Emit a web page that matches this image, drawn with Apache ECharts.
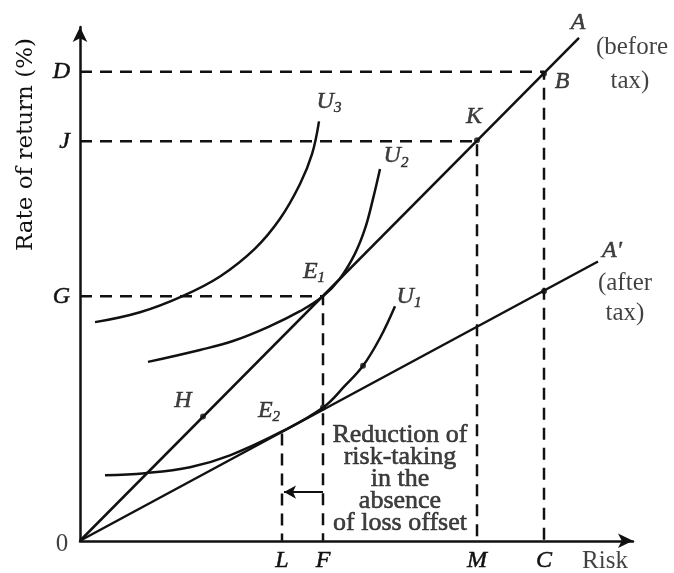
<!DOCTYPE html>
<html>
<head>
<meta charset="utf-8">
<script src="https://cdn.jsdelivr.net/npm/echarts@6/dist/echarts.min.js"></script>
<style>
    html, body { margin: 0; padding: 0; background: #fff; }
    .riskChart { width: 674px; height: 573px; }
</style>
</head>
<body>
<div class="riskChart"></div>
<script>
// axis marks
var riskTicks = [202, 243, 397, 464];
var riskTickNames = ['L', 'F', 'M', 'C'];
var returnTicks = [246, 402, 472];
var returnTickNames = ['G', 'J', 'D'];

// budget lines from the origin
var lineBeforeTax = [[0, 0], [499, 506]];
var lineAfterTax = [[0, 0], [518, 281]];

// indifference curves
var curveU1 = [[25, 66], [65, 68], [110, 74], [150, 86], [202, 110], [243, 134], [265, 156], [283, 176], [300, 204], [315, 236]];
var curveU2 = [[68, 180], [120, 192], [153, 201], [190, 216], [220, 231], [243, 246], [260, 264], [275, 289], [285, 314], [293, 344], [300, 374]];
var curveU3 = [[15, 220], [60, 230], [102, 246], [140, 266], [175, 294], [200, 324], [220, 359], [232, 389], [239, 422]];

// dashed guides
var guideD = [[0, 472], [464, 472], [464, 0]];
var guideJ = [[0, 402], [397, 402], [397, 0]];
var guideG = [[0, 246], [243, 246], [243, 0]];
var guideL = [[202, 108], [202, 0]];
var shiftArrow = [[243, 49], [204, 49]];

// marked points
var dotPoints = [[123, 125], [397, 403], [464, 470], [464, 251], [283, 176], [243, 134]];

// text labels
var labelNames = ['0', 'A', '(before', 'tax)', 'B', 'K', "A'", '(after', 'tax)',
    'U{s|3}', 'U{s|2}', 'U{s|1}', 'E{s|1}', 'E{s|2}', 'H', 'Risk'];
var labelCoords = [[-18, -4], [498, 521], [552, 496], [550, 462], [482, 462], [394, 427], [532, 292], [545, 259], [545, 229],
    [249, 442], [316, 387], [329, 246], [234, 271], [189, 131], [103, 141], [525, -21]];
var noteText = 'Reduction of\nrisk-taking\nin the\nabsence\nof loss offset';
var noteCoord = [320, 62];

function RiskChart(params) {
    this.canvasId = params.canvasId;
    this.chart = {};
    this.chartsObj = {};
    this.option = {};
}

RiskChart.prototype.initChart = function () {
    var thisProxy = this;
    thisProxy.chart = document.querySelector('.' + thisProxy.canvasId);
    thisProxy.chartsObj = echarts.init(thisProxy.chart);
};

RiskChart.prototype.getOption = function () {
    var thisProxy = this;
    var solid = { color: '#111', width: 2.5 };
    var dashed = { color: '#111', width: 2.5, type: [12, 8] };

    var curve = function (data, style, smooth) {
        return {
            type: 'line',
            data: data,
            smooth: smooth,
            symbol: 'none',
            silent: true,
            animation: false,
            lineStyle: style
        };
    };

    var isLetter = function (name) {
        return name.length < 7 && name.charAt(0) !== '(' && name !== 'tax)' && name !== 'Risk' && name !== '0';
    };
    var textData = [];
    for (var i = 0; i < labelNames.length; i++) {
        var item = { name: labelNames[i], value: labelCoords[i] };
        if (isLetter(labelNames[i])) {
            // 字母标注用斜体
            item.label = { fontStyle: 'italic', fontSize: 24, textBorderColor: '#111', textBorderWidth: 0.5 };
        }
        textData.push(item);
    }

    thisProxy.option = {
        backgroundColor: '#fff',
        animation: false,
        grid: {
            left: 80,
            right: 41,
            top: 27,
            bottom: 29
        },
        xAxis: {
            type: 'value',
            min: 0,
            max: 553,
            splitLine: { show: false },
            axisTick: { show: false },
            axisLine: {
                show: true,
                symbol: ['none', 'arrow'],
                symbolSize: [11, 15],
                lineStyle: { color: '#111', width: 2.5 }
            },
            axisLabel: {
                customValues: riskTicks,
                margin: 8,
                color: '#111',
                fontFamily: 'Liberation Serif',
                fontStyle: 'italic',
                fontSize: 24,
                textBorderColor: '#111',
                textBorderWidth: 0.5,
                formatter: function (value) {
                    return riskTickNames[riskTicks.indexOf(value)];
                }
            }
        },
        yAxis: {
            type: 'value',
            min: 0,
            max: 517,
            splitLine: { show: false },
            axisTick: { show: false },
            axisLine: {
                show: true,
                symbol: ['none', 'arrow'],
                symbolSize: [11, 15],
                lineStyle: { color: '#111', width: 2.5 }
            },
            axisLabel: {
                customValues: returnTicks,
                margin: 10,
                color: '#111',
                fontFamily: 'Liberation Serif',
                fontStyle: 'italic',
                fontSize: 24,
                textBorderColor: '#111',
                textBorderWidth: 0.5,
                formatter: function (value) {
                    return returnTickNames[returnTicks.indexOf(value)];
                }
            }
        },
        graphic: [{
            type: 'text',
            left: 15,
            top: 38,
            rotation: Math.PI / 2,
            style: {
                text: 'Rate of return (%)',
                fill: '#111',
                font: '23px "DejaVu Serif"'
            }
        }],
        series: [
            curve(guideD, dashed, false),
            curve(guideJ, dashed, false),
            curve(guideG, dashed, false),
            curve(guideL, dashed, false),
            curve(lineBeforeTax, solid, false),
            curve(lineAfterTax, solid, false),
            curve(curveU1, solid, 0.4),
            curve(curveU2, solid, 0.4),
            curve(curveU3, solid, 0.4),
            {
                type: 'line',
                data: shiftArrow,
                symbol: 'none',
                silent: true,
                lineStyle: { color: '#111', width: 2 },
                markLine: {
                    silent: true,
                    symbol: ['none', 'arrow'],
                    symbolSize: [10, 12],
                    label: { show: false },
                    lineStyle: { color: '#111', width: 2, type: 'solid' },
                    data: [[{ coord: shiftArrow[0] }, { coord: shiftArrow[1] }]]
                }
            },
            {
                type: 'scatter',
                data: dotPoints,
                symbolSize: 6,
                silent: true,
                itemStyle: { color: '#111' }
            },
            {
                type: 'scatter',
                data: textData,
                symbolSize: 0,
                clip: false,
                silent: true,
                label: {
                    show: true,
                    position: 'inside',
                    color: '#111',
                    fontFamily: 'Liberation Serif',
                    fontSize: 25,
                    formatter: function (p) { return p.name; },
                    rich: {
                        s: { fontSize: 15, verticalAlign: 'bottom', padding: [13, 0, 0, 0], fontFamily: 'Liberation Serif', color: '#111' }
                    }
                },
                itemStyle: { color: 'transparent' }
            },
            {
                type: 'scatter',
                data: [{ name: noteText, value: noteCoord }],
                symbolSize: 0,
                silent: true,
                label: {
                    show: true,
                    position: 'inside',
                    align: 'center',
                    color: '#111',
                    fontFamily: 'Liberation Serif',
                    fontSize: 26,
                    lineHeight: 22,
                    textBorderColor: '#111',
                    textBorderWidth: 0.6,
                    formatter: function (p) { return p.name; }
                }
            }
        ]
    };
};

RiskChart.prototype.fireData = function () {
    var thisProxy = this;
    thisProxy.chartsObj.setOption(thisProxy.option);
};

var riskChart = new RiskChart({ canvasId: 'riskChart' });
riskChart.initChart();
riskChart.getOption();
riskChart.fireData();
</script>
</body>
</html>
